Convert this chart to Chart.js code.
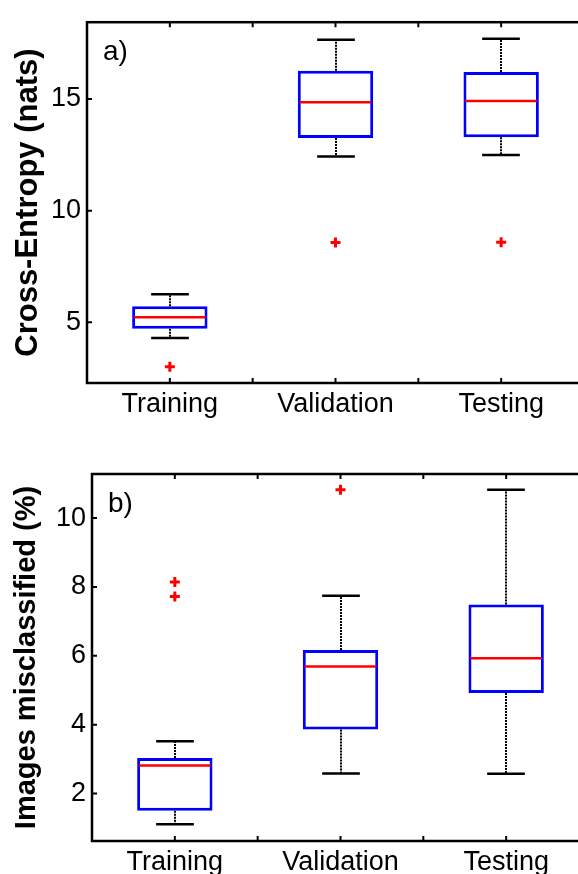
<!DOCTYPE html>
<html>
<head>
<meta charset="utf-8">
<script src="https://cdn.jsdelivr.net/npm/chart.js@4.4.1/dist/chart.umd.min.js"></script>
<style>
  html, body { margin: 0; padding: 0; background: #fff; overflow: hidden; }
  .panel { position: absolute; left: 0; width: 600px; height: 437px; }
  #panelA { top: 0; }
  #panelB { top: 437px; }
</style>
</head>
<body>
<div class="panel" id="panelA"><canvas id="crossEntropy" width="600" height="437"></canvas></div>
<div class="panel" id="panelB"><canvas id="misclassified" width="600" height="437"></canvas></div>
<script>
const categories = ['Training', 'Validation', 'Testing'];

// a) cross-entropy (nats)
const ceLow = [4.30, 12.43, 12.49];
const ceQ1 = [4.71, 13.25, 13.29];
const ceMedian = [5.22, 14.86, 14.91];
const ceQ3 = [5.72, 16.26, 16.21];
const ceHigh = [6.25, 17.65, 17.70];
const ceOutliers = [[3.01], [8.57], [8.58]];
const ceTicks = [5, 10, 15];
const ceRange = [2.28, 18.44];

// b) images misclassified (%)
const mcLow = [1.11, 2.58, 2.57];
const mcQ1 = [1.50, 3.86, 4.92];
const mcMedian = [2.81, 5.69, 5.93];
const mcQ3 = [3.03, 6.17, 7.49];
const mcHigh = [3.52, 7.74, 10.82];
const mcOutliers = [[7.72, 8.14], [10.82], []];
const mcTicks = [2, 4, 6, 8, 10];
const mcRange = [0.62, 11.28];

const FONT = "'Liberation Sans', Arial, sans-serif";

function makeBoxPlot(canvasId, opts) {
  const outlierPoints = [];
  opts.outliers.forEach((list, i) => {
    list.forEach(v => outlierPoints.push({ x: categories[i], y: v }));
  });

  // whiskers, medians, frame and inward ticks
  const boxDecor = {
    id: 'boxDecor',
    afterDatasetsDraw(chart) {
      const ctx = chart.ctx;
      const y = chart.scales.y;
      const bars = chart.getDatasetMeta(0).data;
      ctx.save();
      bars.forEach((bar, i) => {
        const cx = Math.round(bar.x);
        const half = bar.width / 2;
        const cap = bar.width / 4;
        // dotted whisker stems
        ctx.strokeStyle = '#000';
        ctx.lineWidth = 2;
        ctx.setLineDash([2, 1]);
        ctx.beginPath();
        ctx.moveTo(cx, y.getPixelForValue(opts.q3[i]));
        ctx.lineTo(cx, y.getPixelForValue(opts.high[i]));
        ctx.moveTo(cx, y.getPixelForValue(opts.q1[i]));
        ctx.lineTo(cx, y.getPixelForValue(opts.low[i]));
        ctx.stroke();
        // caps
        ctx.setLineDash([]);
        ctx.lineWidth = 2.5;
        ctx.beginPath();
        const yh = y.getPixelForValue(opts.high[i]);
        const yl = y.getPixelForValue(opts.low[i]);
        ctx.moveTo(cx - cap, yh);
        ctx.lineTo(cx + cap, yh);
        ctx.moveTo(cx - cap, yl);
        ctx.lineTo(cx + cap, yl);
        ctx.stroke();
        // median
        ctx.strokeStyle = '#ff0000';
        ctx.lineWidth = 2.5;
        ctx.beginPath();
        const ym = y.getPixelForValue(opts.median[i]);
        ctx.moveTo(bar.x - half + 2, ym);
        ctx.lineTo(bar.x + half - 2, ym);
        ctx.stroke();
      });
      ctx.restore();
    },
    afterDraw(chart) {
      const ctx = chart.ctx;
      const a = chart.chartArea;
      const x = chart.scales.x;
      const y = chart.scales.y;
      ctx.save();
      ctx.strokeStyle = '#000';
      ctx.lineWidth = 2.5;
      ctx.strokeRect(a.left, a.top, a.right - a.left, a.bottom - a.top);
      ctx.lineWidth = 2;
      ctx.beginPath();
      for (let k = 0; k <= 4; k++) {
        const px = x.getPixelForValue(k / 2);
        ctx.moveTo(px, a.bottom);
        ctx.lineTo(px, a.bottom - 5);
        ctx.moveTo(px, a.top);
        ctx.lineTo(px, a.top + 5);
      }
      opts.ticks.forEach(v => {
        const py = y.getPixelForValue(v);
        ctx.moveTo(a.left, py);
        ctx.lineTo(a.left + 5, py);
        ctx.moveTo(a.right, py);
        ctx.lineTo(a.right - 5, py);
      });
      ctx.stroke();
      ctx.fillStyle = '#000';
      ctx.font = '28px ' + FONT;
      ctx.textBaseline = 'alphabetic';
      ctx.fillText(opts.letter, a.left + 16, a.top + opts.letterDy);
      ctx.restore();
    }
  };

  return new Chart(document.getElementById(canvasId), {
    type: 'bar',
    data: {
      labels: categories,
      datasets: [{
        label: 'box',
        data: categories.map((c, i) => [opts.q1[i], opts.q3[i]]),
        backgroundColor: '#ffffff',
        borderColor: '#0000ff',
        borderWidth: 3,
        borderSkipped: false,
        barPercentage: 0.455,
        categoryPercentage: 1
      }, {
        type: 'scatter',
        label: 'outliers',
        data: outlierPoints,
        pointStyle: 'cross',
        pointRadius: 5,
        pointBorderColor: '#ff0000',
        pointBorderWidth: 3
      }]
    },
    options: {
      responsive: false,
      animation: false,
      events: [],
      layout: { padding: { top: opts.padTop, right: opts.padRight, bottom: 0, left: 0 } },
      plugins: { legend: { display: false }, tooltip: { enabled: false } },
      scales: {
        x: {
          type: 'category',
          offset: true,
          grid: { display: false, drawTicks: false },
          border: { display: false },
          ticks: { color: '#000', font: { family: FONT, size: 27 }, padding: 5, maxRotation: 0 },
          afterFit: s => { s.height = opts.xHeight; }
        },
        y: {
          min: opts.range[0],
          max: opts.range[1],
          grid: { display: false, drawTicks: false },
          border: { display: false },
          afterBuildTicks: s => { s.ticks = opts.ticks.map(v => ({ value: v })); },
          ticks: { color: '#000', font: { family: FONT, size: 27 }, padding: 6 },
          title: {
            display: true,
            text: opts.title,
            color: '#000',
            font: { family: FONT, size: opts.titleSize, weight: 'bold' },
            padding: { top: 10, bottom: 0 }
          },
          afterFit: s => { s.width = opts.yWidth; }
        }
      }
    },
    plugins: [boxDecor]
  });
}

makeBoxPlot('crossEntropy', {
  low: ceLow, q1: ceQ1, median: ceMedian, q3: ceQ3, high: ceHigh,
  outliers: ceOutliers, ticks: ceTicks, range: ceRange,
  title: 'Cross-Entropy (nats)', titleSize: 31, letter: 'a)', letterDy: 38,
  padTop: 14, padRight: 16, xHeight: 54, yWidth: 87
});

makeBoxPlot('misclassified', {
  low: mcLow, q1: mcQ1, median: mcMedian, q3: mcQ3, high: mcHigh,
  outliers: mcOutliers, ticks: mcTicks, range: mcRange,
  title: 'Images misclassified (%)', titleSize: 29, letter: 'b)', letterDy: 38,
  padTop: 37, padRight: 11, xHeight: 33, yWidth: 92
});
</script>
</body>
</html>
